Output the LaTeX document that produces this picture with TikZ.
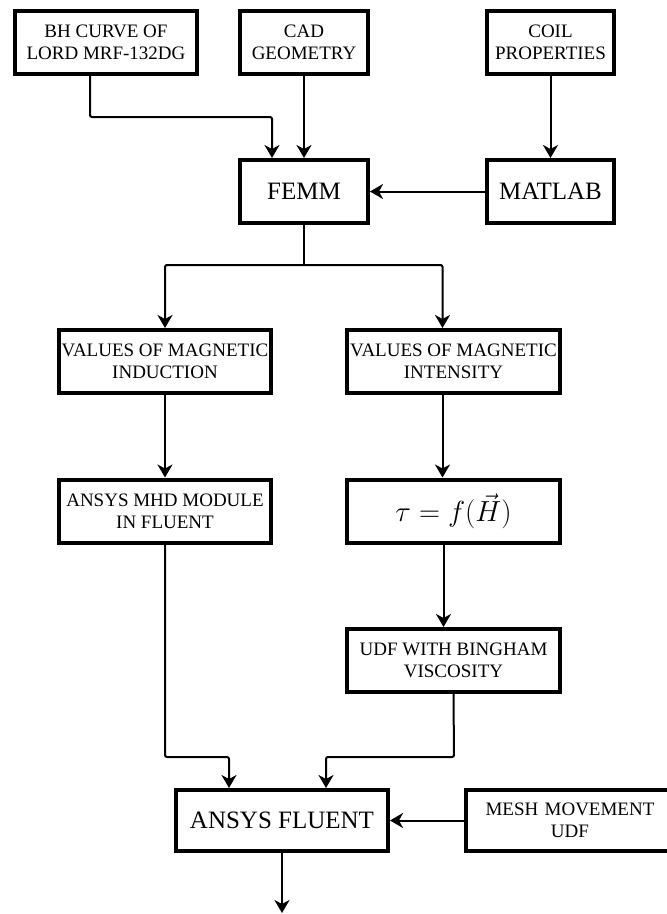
\documentclass[tikz,border=0pt]{standalone}
\usepackage{fontspec}
\setmainfont{Liberation Serif}
\usetikzlibrary{arrows.meta}
\begin{document}
\begin{tikzpicture}[x=1pt,y=-1pt,
  box/.style={draw=black,line width=4pt,fill=white,inner sep=0pt,align=center,
    minimum height=63pt,font=\fontsize{19}{22}\selectfont},
  bigbox/.style={box,font=\fontsize{25}{28}\selectfont},
  arr/.style={line width=2pt,rounded corners=2pt,-{Stealth[length=13pt,width=15pt,inset=4pt]}},
  ln/.style={line width=2pt,rounded corners=2pt}]
\useasboundingbox (0,0) rectangle (667,914);
\node[box,minimum width=182pt] (bh) at (106,42.5) {BH CURVE OF\\LORD MRF-132DG};
\node[box,minimum width=128pt] (cad) at (304,42.5) {CAD\\GEOMETRY};
\node[box,minimum width=127pt] (coil) at (550.5,42.5) {COIL\\PROPERTIES};
\node[bigbox,minimum width=128pt] (femm) at (304,191.5) {FEMM};
\node[bigbox,minimum width=127pt] (matlab) at (550.5,191.5) {MATLAB};
\node[box,minimum width=212pt] (vb) at (165,361.5) {VALUES OF MAGNETIC\\INDUCTION};
\node[box,minimum width=213pt] (vh) at (453.5,361.5) {VALUES OF MAGNETIC\\INTENSITY};
\node[box,minimum width=212pt] (mhd) at (165,511) {ANSYS MHD MODULE\\IN FLUENT};
\node[box,minimum width=213pt,font=\fontsize{20}{24}\selectfont] (tau) at (453.5,511) {\scalebox{1.4}{$\tau = f(\vec{H})$}};
\node[box,minimum width=213pt] (udf) at (453.5,660.5) {UDF WITH BINGHAM\\VISCOSITY};
\node[bigbox,minimum width=212pt,minimum height=61pt] (fluent) at (282,820.5) {ANSYS FLUENT};
\node[box,minimum width=208pt,minimum height=61pt,text width=200pt] (mesh) at (570,820.5) {MESH MOVEMENT\\UDF};
\coordinate (e1) at (90,117);
\coordinate (split) at (304,265);
\coordinate (e2) at (165,757);
\coordinate (e3) at (454,757);
\coordinate (out) at (282,913);
\draw[arr] ([xshift=-16pt]bh.south) -- (e1) -| ([xshift=-32pt]femm.north);
\draw[arr] (cad.south) -- (femm.north);
\draw[arr] (coil.south) -- (matlab.north);
\draw[arr] (matlab.west) -- (femm.east);
\draw[ln] (femm.south) -- (split);
\draw[arr] (split) -| (vb.north);
\draw[arr] (split) -| ([xshift=-11pt]vh.north);
\draw[arr] (vb.south) -- (mhd.north);
\draw[arr] ([xshift=-11pt]vh.south) -- ([xshift=-11pt]tau.north);
\draw[arr] ([xshift=-10pt]tau.south) -- ([xshift=-10pt]udf.north);
\draw[arr] (mhd.south) -- (e2) -| ([xshift=-53pt]fluent.north);
\draw[arr] (udf.south) -- (e3) -| ([xshift=44pt]fluent.north);
\draw[arr] (mesh.west) -- (fluent.east);
\draw[arr] (fluent.south) -- (out);
\end{tikzpicture}
\end{document}
